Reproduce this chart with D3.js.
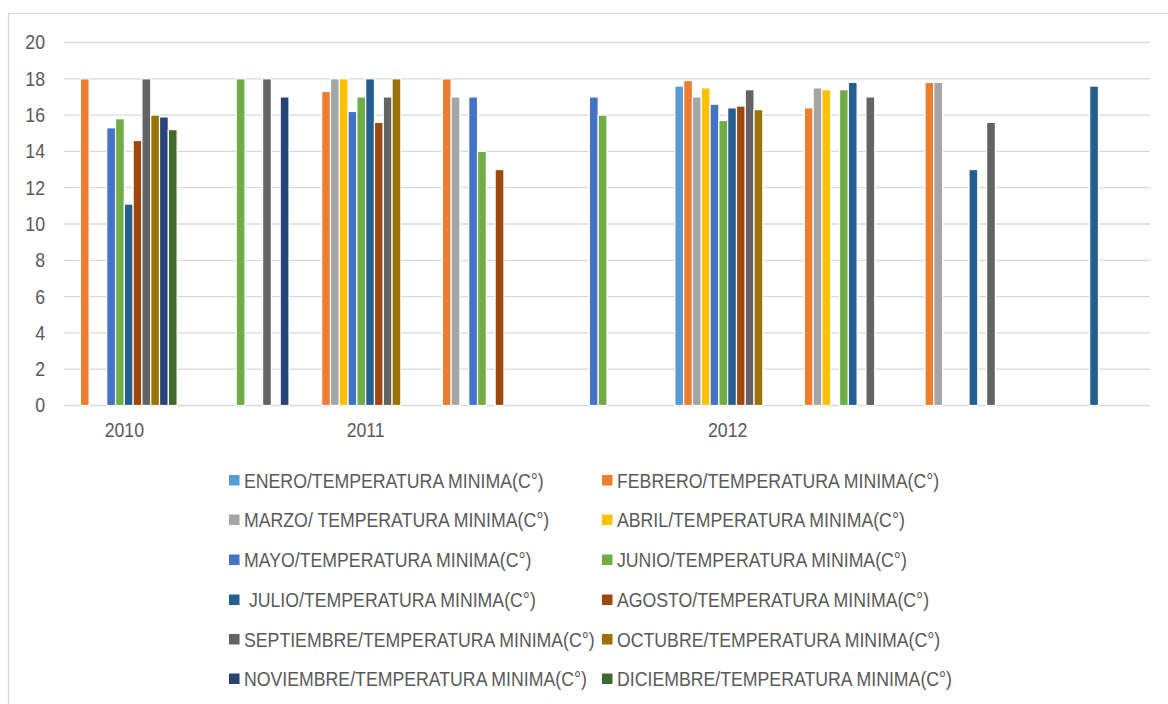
<!DOCTYPE html>
<html>
<head>
<meta charset="utf-8">
<script src="https://cdn.jsdelivr.net/npm/d3@7"></script>
<style>
  html, body { margin: 0; padding: 0; background: #fff; }
  svg { display: block; }
  text { font-family: "Liberation Sans", Arial, sans-serif; fill: #595959; white-space: pre; }
</style>
</head>
<body>
<svg id="chart" width="1168" height="704"></svg>
<script>
// Category axis labels (nine clusters, only some of them labelled)
const categoryLabels = ["2010", "", "2011", "", "", "2012", "", "", ""];

// Series names as shown in the legend
const seriesNames = [
  "ENERO/TEMPERATURA MINIMA(C°)",
  "FEBRERO/TEMPERATURA MINIMA(C°)",
  "MARZO/ TEMPERATURA MINIMA(C°)",
  "ABRIL/TEMPERATURA MINIMA(C°)",
  "MAYO/TEMPERATURA MINIMA(C°)",
  "JUNIO/TEMPERATURA MINIMA(C°)",
  " JULIO/TEMPERATURA MINIMA(C°)",
  "AGOSTO/TEMPERATURA MINIMA(C°)",
  "SEPTIEMBRE/TEMPERATURA MINIMA(C°)",
  "OCTUBRE/TEMPERATURA MINIMA(C°)",
  "NOVIEMBRE/TEMPERATURA MINIMA(C°)",
  "DICIEMBRE/TEMPERATURA MINIMA(C°)"
];

// Minimum temperature per month, one value per cluster (null = no data)
const enero      = [null, null, null, null, null, 17.6, null, null, null];
const febrero    = [18,   null, 17.3, 18,   null, 17.9, 16.4, 17.8, null];
const marzo      = [null, null, 18,   17,   null, 17,   17.5, 17.8, null];
const abril      = [null, null, 18,   null, null, 17.5, 17.4, null, null];
const mayo       = [15.3, null, 16.2, 17,   17,   16.6, null, null, null];
const junio      = [15.8, 18,   17,   14,   16,   15.7, 17.4, null, null];
const julio      = [11.1, null, 18,   null, null, 16.4, 17.8, 13,   17.6];
const agosto     = [14.6, null, 15.6, 13,   null, 16.5, null, null, null];
const septiembre = [18,   18,   17,   null, null, 17.4, 17,   15.6, null];
const octubre    = [16,   null, 18,   null, null, 16.3, null, null, null];
const noviembre  = [15.9, 17,   null, null, null, null, null, null, null];
const diciembre  = [15.2, null, null, null, null, null, null, null, null];

const seriesValues = [enero, febrero, marzo, abril, mayo, junio, julio,
                      agosto, septiembre, octubre, noviembre, diciembre];

// Office palette for twelve series
const seriesColors = ["#5B9BD5", "#ED7D31", "#A5A5A5", "#FFC000", "#4472C4", "#70AD47",
                      "#255E91", "#9E480E", "#636363", "#997300", "#264478", "#43682B"];

// Value axis ticks
const yTicks = [0, 2, 4, 6, 8, 10, 12, 14, 16, 18, 20];

const svg = d3.select("#chart");
const plot = { left: 64, right: 1150, top: 42.5, bottom: 405.5 };
const fontSize = 20;
const narrow = "scale(0.885,1)";   // condensed look for all chart text

// Chart frame
svg.append("rect")
  .attr("x", 8.5).attr("y", 13.5)
  .attr("width", 1168).attr("height", 704)
  .attr("fill", "none").attr("stroke", "#d9d9d9").attr("stroke-width", 1.3);

const x0 = d3.scaleBand()
  .domain(d3.range(categoryLabels.length))
  .range([plot.left, plot.right])
  .paddingInner(0.125)
  .paddingOuter(0.0625);

const x1 = d3.scaleBand()
  .domain(d3.range(seriesNames.length))
  .range([0, x0.bandwidth()])
  .padding(0);

const y = d3.scaleLinear().domain([0, 20]).range([plot.bottom, plot.top]);

// Horizontal gridlines
svg.append("g")
  .selectAll("line")
  .data(yTicks)
  .join("line")
  .attr("x1", plot.left).attr("x2", plot.right)
  .attr("y1", d => y(d)).attr("y2", d => y(d))
  .attr("stroke", "#d9d9d9").attr("stroke-width", 1.3);

// Value axis labels
const yAxis = d3.axisLeft(y).tickValues(yTicks).tickSize(0).tickPadding(0);
const gy = svg.append("g").attr("transform", "translate(45,0)").call(yAxis);
gy.select(".domain").remove();
gy.selectAll("text")
  .attr("font-size", fontSize).attr("font-family", null).attr("fill", "#595959")
  .attr("transform", narrow);

// Category axis labels
const xAxis = d3.axisBottom(x0).tickFormat(i => categoryLabels[i]).tickSize(0).tickPadding(0);
const gx = svg.append("g").attr("transform", `translate(0,${plot.bottom + 17})`).call(xAxis);
gx.select(".domain").remove();
gx.selectAll("text")
  .attr("font-size", fontSize).attr("font-family", null).attr("fill", "#595959")
  .attr("transform", narrow);

// Clustered bars
const barData = [];
seriesValues.forEach((vals, s) => {
  vals.forEach((v, c) => {
    if (v !== null) barData.push({ s, c, v });
  });
});

svg.append("g")
  .selectAll("rect")
  .data(barData)
  .join("rect")
  .attr("x", d => x0(d.c) + x1(d.s))
  .attr("width", x1.bandwidth())
  .attr("y", d => y(d.v))
  .attr("height", d => y(0) - y(d.v))
  .attr("fill", d => seriesColors[d.s])
  .attr("stroke", "#ffffff")
  .attr("stroke-width", 1.2);

// Legend in two columns
const legendCols = [229, 602];
const legendRows = [480.5, 520, 560, 600, 639.5, 679];
const legend = svg.append("g")
  .selectAll("g")
  .data(seriesNames)
  .join("g")
  .attr("transform", (d, i) => `translate(${legendCols[i % 2]},${legendRows[Math.floor(i / 2)]})`);

legend.append("rect")
  .attr("x", 0).attr("y", -5.5)
  .attr("width", 10.5).attr("height", 10.5)
  .attr("fill", (d, i) => seriesColors[i]);

legend.append("text")
  .attr("transform", `translate(15,0) ${narrow}`)
  .attr("dy", "0.35em")
  .attr("font-size", fontSize)
  .text(d => d);
</script>
</body>
</html>
